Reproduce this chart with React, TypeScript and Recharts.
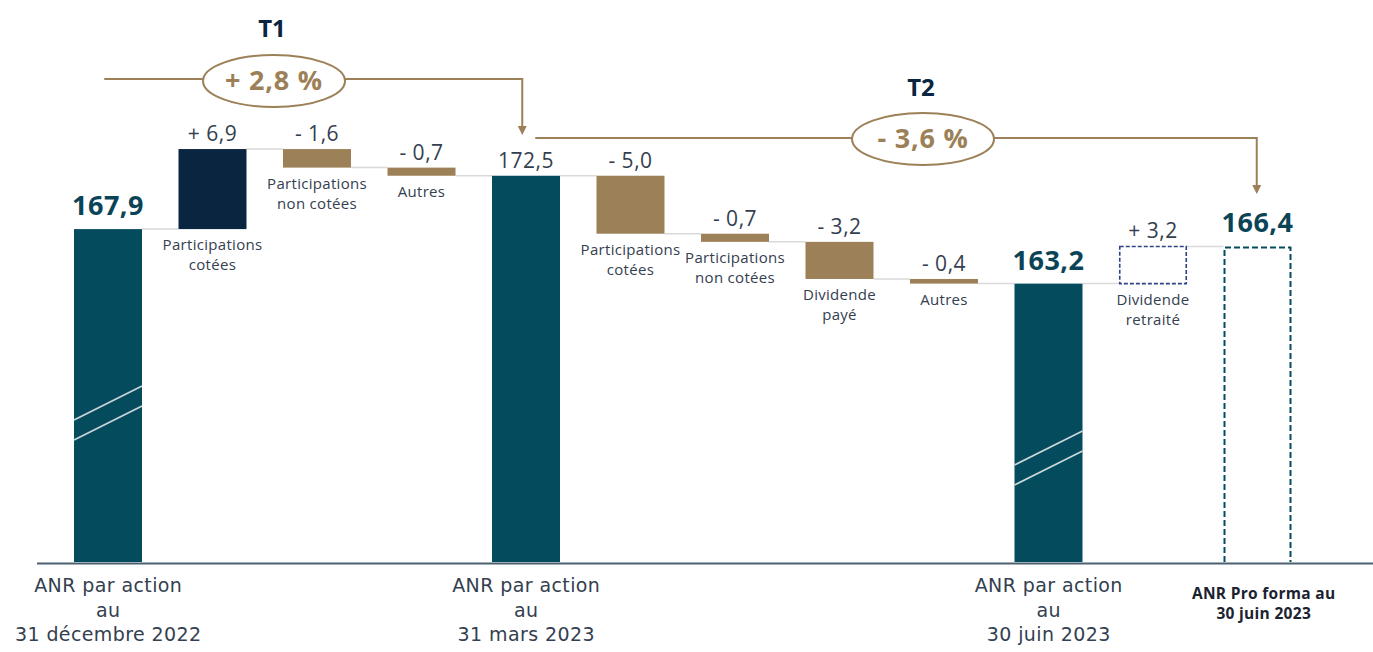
import { BarChart, Bar, XAxis, YAxis } from "recharts";

// --- data ---
const CATEGORY_LINES: string[][] = [
  ["ANR par action", "au", "31 décembre 2022"],
  ["Participations", "cotées"],
  ["Participations", "non cotées"],
  ["Autres"],
  ["ANR par action", "au", "31 mars 2023"],
  ["Participations", "cotées"],
  ["Participations", "non cotées"],
  ["Dividende", "payé"],
  ["Autres"],
  ["ANR par action", "au", "30 juin 2023"],
  ["Dividende", "retraité"],
  ["ANR Pro forma au", "30 juin 2023"],
];
const VALUES = [167.9, 6.9, -1.6, -0.7, 172.5, -5.0, -0.7, -3.2, -0.4, 163.2, 3.2, 166.4];
const KINDS = ["total", "up", "down", "down", "total", "down", "down", "down", "down", "total", "adjust", "proforma"];
const PERIOD_TITLES = ["T1", "T2"];
const PERIOD_CHANGES = ["+ 2,8 %", "- 3,6 %"];

// --- layout ---
const W = 1373;
const H = 652;
const LEFT = 56;
const RIGHT = 63;
const AXIS_H = 90;
const PLOT_BOTTOM = H - AXIS_H;
const AXIS_MIN = 139.2;
const AXIS_MAX = 187.65;
const BAR_W = 68;
const BAND = (W - LEFT - RIGHT) / VALUES.length;
const xc = (i: number) => LEFT + BAND * (i + 0.5);

const TEAL = "#054b5e";
const NAVY = "#0a2540";
const TAN = "#9c8058";
const TEXT = "#34404f";
const FONT = "'Open Sans', sans-serif";
const AXIS_FONT = "'DejaVu Sans', sans-serif";

// break marks (offset above the bar bottom)
const BREAKS: Record<number, number> = { 0: 150, 9: 105 };

const fmt = (v: number) => Math.abs(v).toFixed(1).replace(".", ",");

let run = 0;
const data = VALUES.map((v, i) => {
  const kind = KINDS[i];
  let low: number;
  let high: number;
  if (kind === "total" || kind === "proforma") {
    low = AXIS_MIN;
    high = v;
    run = v;
  } else {
    low = Math.min(run, run + v);
    high = Math.max(run, run + v);
    run += v;
  }
  return { key: `c${i}`, value: v, kind, range: [low, high], idx: i };
});

const BarShape = (props: any) => {
  const { x, y, width, height, payload } = props;
  const i = payload.idx;
  const kind = payload.kind;
  const isTotal = kind === "total" || kind === "proforma";
  const endY = kind === "down" ? y + height : y;
  const gap = BAND - BAR_W;
  const lines = CATEGORY_LINES[i];

  let body;
  if (kind === "adjust") {
    body = (
      <rect x={x + 0.75} y={y} width={width - 1.5} height={height} fill="none" stroke="#2d4485" strokeWidth={1.6} strokeDasharray="4 2" />
    );
  } else if (kind === "proforma") {
    body = (
      <path
        d={`M${x + 1},${y + height} V${y + 1} H${x + width - 1} V${y + height}`}
        fill="none"
        stroke={TEAL}
        strokeWidth={2}
        strokeDasharray="6 3"
      />
    );
  } else {
    const fill = kind === "total" ? TEAL : kind === "up" ? NAVY : TAN;
    body = <rect x={x} y={y} width={width} height={height} fill={fill} />;
  }

  const brk = BREAKS[i];
  const valueText = isTotal ? fmt(payload.value) : `${payload.value > 0 ? "+" : "-"} ${fmt(payload.value)}`;
  const bold = isTotal && i !== 4;

  return (
    <g>
      {i < VALUES.length - 1 && (
        <line x1={x + width} x2={x + width + gap} y1={endY} y2={endY} stroke="#d9d9d9" strokeWidth={1.5} />
      )}
      {body}
      {brk !== undefined && (
        <g stroke="#c9d6da" strokeWidth={1.6}>
          <line x1={x} y1={y + height - brk + 8} x2={x + width} y2={y + height - brk - 26} />
          <line x1={x} y1={y + height - brk + 28} x2={x + width} y2={y + height - brk - 6} />
        </g>
      )}
      <text
        x={x + width / 2}
        y={y - (bold ? 14 : 8)}
        textAnchor="middle"
        fontFamily={FONT}
        fontSize={bold ? 27 : 21}
        fontWeight={bold ? 700 : 400}
        letterSpacing={0.5}
        fill={bold ? "#0b4456" : TEXT}
      >
        {valueText}
      </text>
      {!isTotal &&
        lines.map((l, k) => (
          <text
            key={k}
            x={x + width / 2}
            y={y + height + 21 + k * 20}
            textAnchor="middle"
            fontFamily={FONT}
            fontSize={15}
            letterSpacing={0.3}
            fill={TEXT}
          >
            {l}
          </text>
        ))}
    </g>
  );
};

const Tick = (props: any) => {
  const { x, payload } = props;
  const i = payload.index;
  const kind = KINDS[i];
  if (kind === "proforma") {
    return (
      <g>
        {CATEGORY_LINES[i].map((l, k) => (
          <text key={k} x={x + 6} y={PLOT_BOTTOM + 37 + k * 20} textAnchor="middle" fontFamily={FONT} fontSize={15.5} letterSpacing={0.3} fontWeight={700} fill="#1b2230">
            {l}
          </text>
        ))}
      </g>
    );
  }
  if (kind !== "total") return <g />;
  return (
    <g>
      {CATEGORY_LINES[i].map((l, k) => (
        <text key={k} x={x} y={PLOT_BOTTOM + 30 + k * 24.5} textAnchor="middle" fontFamily={AXIS_FONT} fontSize={19} letterSpacing={0.4} fill={TEXT}>
          {l}
        </text>
      ))}
    </g>
  );
};

const Arrow = ({ x, y }: { x: number; y: number }) => (
  <path d={`M${x - 4.5},${y - 9} L${x + 4.5},${y - 9} L${x},${y} Z`} fill={TAN} />
);

const Annotations = () => {
  const p1 = { cx: 274, cy: 81, y: 79, x0: xc(0) - 4, x1: xc(4) - 4, tip: 135 };
  const p2 = { cx: 923, cy: 139, y: 138, x0: xc(4) + 9, x1: xc(11) - 1, tip: 194 };
  return (
    <svg width={W} height={H} style={{ position: "absolute", left: 0, top: 0, pointerEvents: "none" }}>
      <line x1={37} x2={W} y1={PLOT_BOTTOM + 1.5} y2={PLOT_BOTTOM + 1.5} stroke="#4d6072" strokeWidth={2} />
      {[p1, p2].map((p, k) => (
        <g key={k}>
          <text x={p.cx - 2} y={37 + k * 59} textAnchor="middle" fontFamily={FONT} fontSize={24} fontWeight={700} fill={NAVY}>
            {PERIOD_TITLES[k]}
          </text>
          <polyline points={`${p.x0},${p.y} ${p.cx - 71},${p.y}`} fill="none" stroke={TAN} strokeWidth={2} />
          <polyline
            points={`${p.cx + 71},${p.y} ${p.x1},${p.y} ${p.x1},${p.tip - 8}`}
            fill="none"
            stroke={TAN}
            strokeWidth={2}
          />
          <Arrow x={p.x1} y={p.tip} />
          <ellipse cx={p.cx} cy={p.cy} rx={71} ry={26} fill="#fff" stroke={TAN} strokeWidth={2} />
          <text x={p.cx} y={p.cy + 9} textAnchor="middle" fontFamily={FONT} fontSize={27} letterSpacing={0.8} fontWeight={700} fill={TAN}>
            {PERIOD_CHANGES[k]}
          </text>
        </g>
      ))}
    </svg>
  );
};

export default function App() {
  return (
    <div style={{ position: "absolute", left: 0, top: 0, width: W, height: H, background: "#fff" }}>
      <BarChart width={W} height={H} data={data} margin={{ top: 0, right: RIGHT, left: LEFT, bottom: 0 }}>
        <XAxis dataKey="key" height={AXIS_H} axisLine={false} tickLine={false} interval={0} tick={<Tick />} />
        <YAxis hide domain={[AXIS_MIN, AXIS_MAX]} allowDataOverflow />
        <Bar dataKey="range" barSize={BAR_W} shape={<BarShape />} isAnimationActive={false} />
      </BarChart>
      <Annotations />
    </div>
  );
}
